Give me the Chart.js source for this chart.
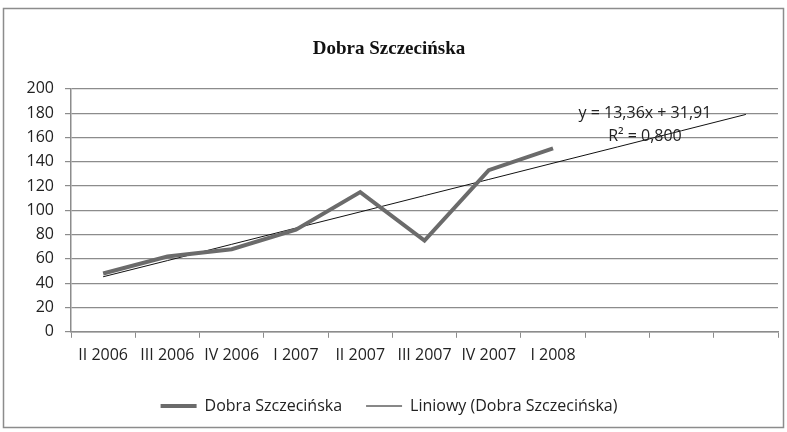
<!DOCTYPE html>
<html>
<head>
<meta charset="utf-8">
<script src="https://cdn.jsdelivr.net/npm/chart.js@4/dist/chart.umd.min.js"></script>
<style>
  html, body { margin: 0; padding: 0; background: #fff; }
  #wrap { width: 787px; height: 432px; }
</style>
</head>
<body>
<div id="wrap"><canvas id="dobraChart" width="787" height="432"></canvas></div>
<script>
// kwartaly (ostatnie trzy puste - linia trendu idzie dalej)
const quarters = ["II 2006", "III 2006", "IV 2006", "I 2007", "II 2007", "III 2007", "IV 2007", "I 2008", "", "", ""];
const dobraValues = [48, 62, 68, 84, 115, 75, 133, 151];
const trendValues = [45.3, 58.6, 72.0, 85.4, 98.7, 112.1, 125.4, 138.8, 152.1, 165.5, 178.9];
const yTicks = [0, 20, 40, 60, 80, 100, 120, 140, 160, 180, 200];
const trendLabel = ["y = 13,36x + 31,91", "R² = 0,800"];

const sansFont = "'Open Sans', 'DejaVu Sans', sans-serif";

// ramka wykresu + opis linii trendu
const extrasPlugin = {
	id: "extras",
	beforeDraw(chart) {
		const ctx = chart.ctx;
		ctx.save();
		ctx.strokeStyle = "#8c8c8c";
		ctx.lineWidth = 1.5;
		ctx.strokeRect(3.5, 8.5, 780, 419);
		ctx.restore();
	},
	afterDatasetsDraw(chart) {
		const ctx = chart.ctx;
		const x = chart.scales.x.getPixelForValue(8.43);
		const y = chart.scales.y;
		ctx.save();
		ctx.font = "16px " + sansFont;
		ctx.fillStyle = "#222";
		ctx.textAlign = "center";
		ctx.textBaseline = "middle";
		ctx.fillText(trendLabel[0], x, y.getPixelForValue(179.5));
		ctx.fillText(trendLabel[1], x, y.getPixelForValue(160.5));
		ctx.restore();
	}
};

const dobraData = {
	labels: quarters,
	datasets: [
		{
			label: "Dobra Szczecińska",
			data: dobraValues,
			borderColor: "#6b6b6b",
			backgroundColor: "#6b6b6b",
			borderWidth: 4,
			pointRadius: 0,
			tension: 0,
			pointStyle: "line",
		},
		{
			label: "Liniowy (Dobra Szczecińska)",
			data: trendValues,
			borderColor: "#111",
			backgroundColor: "#111",
			borderWidth: 1,
			pointRadius: 0,
			tension: 0,
			pointStyle: "line",
		},
	],
};

const dobraConfig = {
	type: "line",
	data: dobraData,
	options: {
		responsive: false,
		animation: false,
		layout: { padding: { left: 0, right: 9, top: 0, bottom: 8 } },
		plugins: {
			title: {
				display: true,
				text: "Dobra Szczecińska",
				color: "#111",
				font: { family: "'Liberation Serif', 'Times New Roman', serif", size: 19, weight: "bold" },
				padding: { top: 38, bottom: 28 },
			},
			legend: {
				position: "bottom",
				labels: {
					usePointStyle: true,
					pointStyleWidth: 36,
					color: "#222",
					font: { family: sansFont, size: 16 },
					padding: 24,
				},
			},
			tooltip: { enabled: false },
		},
		scales: {
			x: {
				offset: true,
				grid: {
					offset: true,
					drawOnChartArea: false,
					drawTicks: true,
					tickLength: 6,
					color: "#8c8c8c",
				},
				border: { color: "#8c8c8c", width: 1.5 },
				ticks: {
					color: "#222",
					font: { family: sansFont, size: 16 },
					padding: 8,
					maxRotation: 0,
					autoSkip: false,
				},
				afterFit(scale) {
					scale.height += 1;
				},
			},
			y: {
				min: 0,
				max: 200,
				afterBuildTicks(scale) {
					scale.ticks = yTicks.map(v => ({ value: v }));
				},
				afterFit(scale) {
					scale.width = 71;
				},
				grid: {
					color: "#8c8c8c",
					lineWidth: 1.2,
					tickLength: 6,
				},
				border: { color: "#8c8c8c", width: 1.5 },
				ticks: {
					color: "#222",
					font: { family: sansFont, size: 16 },
					padding: 11,
				},
			},
		},
	},
	plugins: [extrasPlugin],
};

const dobraChart = new Chart(document.getElementById("dobraChart"), dobraConfig);
</script>
</body>
</html>
